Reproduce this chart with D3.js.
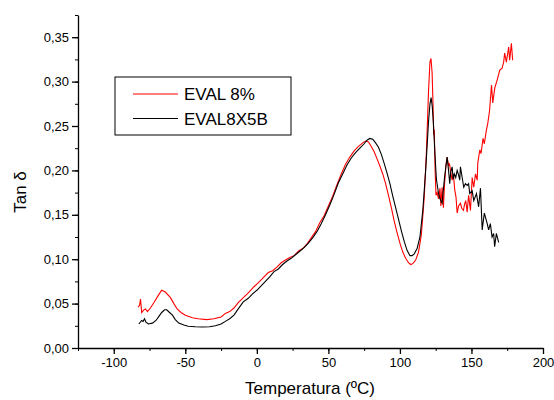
<!DOCTYPE html>
<html>
<head>
<meta charset="utf-8">
<script src="https://cdn.jsdelivr.net/npm/d3@7"></script>
<style>
  body { margin: 0; background: #fff; }
  text { font-family: "Liberation Sans", Arial, sans-serif; }
</style>
</head>
<body>
<div class="svg-div"></div>
<script>
// EVAL 8% (red)
const redT = [-83,-82,-81.3,-80.5,-79,-77.8,-76.5,-74.4,-72,-69,-66.5,-64,-60.5,-58,-55.7,-53,-50,-45,-41,-35,-30,-25,-22,-19,-16,-13,-10,-6,-2,2,5,8,11,14,17,20,23,26,29,32,35,38,41,44,47,50,53,56,59,62,65,68,71,74,76,78,80,82,84,86,88,90,92,94,96,98,100,102,104,106,107.5,109,111,113,115,117,118.5,120,121,121.7,122.5,123.2,123.6,124,124.6,125.2,126,127,128,128.6,129.5,130.4,131.2,132.2,133,134,134.6,135.5,136.5,137.4,138.3,139.2,140,141,142.3,143.3,144.4,145.2,146,147,148,149.3,150.5,151.6,152.8,154,154.4,155.8,156.7,158.1,159,160.4,161.4,162.7,164,164.9,166.3,168,169.8,171.4,172.5,173.2,174.4,176,176.7,177.9,178.8];
const redV = [0.046,0.048,0.055,0.040,0.043,0.044,0.041,0.045,0.051,0.059,0.065,0.063,0.057,0.050,0.044,0.040,0.037,0.034,0.033,0.032,0.033,0.035,0.039,0.041,0.045,0.051,0.056,0.062,0.069,0.075,0.080,0.085,0.087,0.091,0.096,0.099,0.102,0.104,0.109,0.112,0.117,0.124,0.131,0.141,0.149,0.160,0.171,0.184,0.196,0.207,0.215,0.222,0.227,0.231,0.233,0.232,0.227,0.221,0.213,0.205,0.196,0.185,0.172,0.158,0.143,0.130,0.118,0.108,0.101,0.096,0.094,0.095,0.099,0.108,0.128,0.170,0.220,0.290,0.322,0.326,0.310,0.270,0.240,0.246,0.200,0.172,0.175,0.168,0.180,0.160,0.181,0.158,0.185,0.206,0.215,0.205,0.208,0.198,0.189,0.196,0.178,0.170,0.152,0.160,0.163,0.157,0.155,0.162,0.166,0.153,0.172,0.155,0.192,0.181,0.196,0.189,0.208,0.223,0.219,0.236,0.230,0.245,0.253,0.268,0.296,0.276,0.293,0.302,0.313,0.315,0.322,0.332,0.322,0.339,0.324,0.343,0.324];

// EVAL8X5B (black)
const blackT = [-82.5,-81.5,-80.5,-79.5,-78.5,-77.5,-75.8,-73,-70.5,-68.7,-66.5,-64.5,-63,-61,-59,-57,-54.6,-51,-48,-43,-38,-33,-29,-25,-22,-19,-16,-13,-9.5,-6,-3,0,3,6,9,12,15,18,21,24,27,30,33,36,39,42,45,48,51,54,57,60,63,66,69,72,75,77,79,81,83,85,87,89,91,93,95,97,99,101,103,105,107,108.5,110,112,114,116,118,120,121,121.8,122.6,123.4,124.5,125.5,127,128,129.5,131,132,133,134,134.8,135.5,136.5,137.2,138,139,140,141,141.8,142.3,143.5,144.6,145.8,147,148,148.8,150.5,151.6,153.5,155,156.3,157.5,159,161,162,163.2,164.4,165.5,166.2,167.4,169];
const blackV = [0.027,0.029,0.031,0.030,0.033,0.029,0.027,0.028,0.031,0.035,0.040,0.043,0.043,0.040,0.037,0.032,0.028,0.026,0.0245,0.024,0.0237,0.024,0.025,0.027,0.030,0.033,0.037,0.044,0.052,0.056,0.061,0.065,0.070,0.075,0.080,0.086,0.089,0.094,0.098,0.101,0.105,0.109,0.113,0.118,0.124,0.131,0.140,0.150,0.161,0.173,0.186,0.196,0.206,0.214,0.220,0.225,0.230,0.234,0.236,0.235,0.231,0.226,0.218,0.208,0.197,0.185,0.171,0.158,0.145,0.132,0.120,0.110,0.104,0.104,0.106,0.112,0.125,0.155,0.200,0.255,0.275,0.282,0.272,0.253,0.218,0.190,0.174,0.168,0.163,0.189,0.203,0.215,0.200,0.185,0.198,0.204,0.190,0.196,0.192,0.200,0.195,0.189,0.204,0.192,0.181,0.185,0.183,0.185,0.174,0.177,0.166,0.174,0.159,0.180,0.133,0.152,0.140,0.133,0.140,0.125,0.129,0.114,0.129,0.119];

const xTicks = [-100, -50, 0, 50, 100, 150, 200];
const yTicks = [0, 0.05, 0.10, 0.15, 0.20, 0.25, 0.30, 0.35];
const seriesNames = ["EVAL 8%", "EVAL8X5B"];
const seriesColors = ["#ff0000", "#000000"];

const svgWidth = 554, svgHeight = 400;
const margin = {top: 15, right: 11, bottom: 52, left: 78};
const width = svgWidth - margin.left - margin.right;
const height = svgHeight - margin.top - margin.bottom;

const svg = d3.select(".svg-div").append("svg")
  .attr("width", svgWidth)
  .attr("height", svgHeight);

const x = d3.scaleLinear().domain([-125, 200]).range([0, width]);
const y = d3.scaleLinear().domain([0, 0.375]).range([height, 0]);

const g = svg.append("g")
  .attr("transform", "translate(" + margin.left + "," + margin.top + ")");

const comma = v => d3.format(".2f")(v).replace(".", ",");

// minor ticks
g.append("g")
  .attr("transform", "translate(0," + height + ")")
  .call(d3.axisBottom(x).tickValues(d3.range(-125, 201, 25)).tickSize(3).tickFormat(""))
  .call(a => a.select(".domain").remove());
g.append("g")
  .call(d3.axisLeft(y).tickValues(d3.range(0, 0.376, 0.025)).tickSize(3).tickFormat(""))
  .call(a => a.select(".domain").remove());

// major axes
g.append("g")
  .attr("class", "x axis")
  .attr("transform", "translate(0," + height + ")")
  .call(d3.axisBottom(x).tickValues(xTicks).tickSize(6).tickSizeOuter(0).tickPadding(4)
    .tickFormat(d => String(d)));
g.append("g")
  .attr("class", "y axis")
  .call(d3.axisLeft(y).tickValues(yTicks).tickSize(6).tickSizeOuter(0).tickPadding(3).tickFormat(comma));

g.selectAll(".axis path, .axis line").attr("stroke", "#000").attr("stroke-width", 1.3);
g.selectAll(".tick line").attr("stroke", "#000");
g.selectAll(".axis text")
  .style("font-family", "'Liberation Sans', Arial, sans-serif")
  .style("font-size", "13px")
  .attr("fill", "#000");

// curves
const line = d3.line()
  .x(d => x(d[0]))
  .y(d => y(d[1]));

const redData = redT.map((t, i) => [t, redV[i]]);
const blackData = blackT.map((t, i) => [t, blackV[i]]);

g.append("path")
  .datum(redData)
  .attr("fill", "none")
  .attr("stroke", seriesColors[0])
  .attr("stroke-width", 1.1)
  .attr("d", line);

g.append("path")
  .datum(blackData)
  .attr("fill", "none")
  .attr("stroke", seriesColors[1])
  .attr("stroke-width", 1.1)
  .attr("d", line);

// axis titles
svg.append("text")
  .attr("x", 310)
  .attr("y", 394)
  .attr("text-anchor", "middle")
  .style("font-size", "17px")
  .text("Temperatura (ºC)");

svg.append("text")
  .attr("transform", "translate(26,192) rotate(-90)")
  .attr("text-anchor", "middle")
  .style("font-size", "17px")
  .text("Tan δ");

// legend
const legend = svg.append("g").attr("transform", "translate(115,77)");
legend.append("rect")
  .attr("width", 176)
  .attr("height", 58)
  .attr("fill", "#fff")
  .attr("stroke", "#000")
  .attr("stroke-width", 1);

seriesNames.forEach((name, i) => {
  const ly = 17 + i * 24.5;
  legend.append("line")
    .attr("x1", 18).attr("x2", 63)
    .attr("y1", ly).attr("y2", ly)
    .attr("stroke", seriesColors[i])
    .attr("stroke-width", 1.1);
  legend.append("text")
    .attr("x", 69)
    .attr("y", ly + 6)
    .style("font-size", "17px")
    .text(name);
});
</script>
</body>
</html>
